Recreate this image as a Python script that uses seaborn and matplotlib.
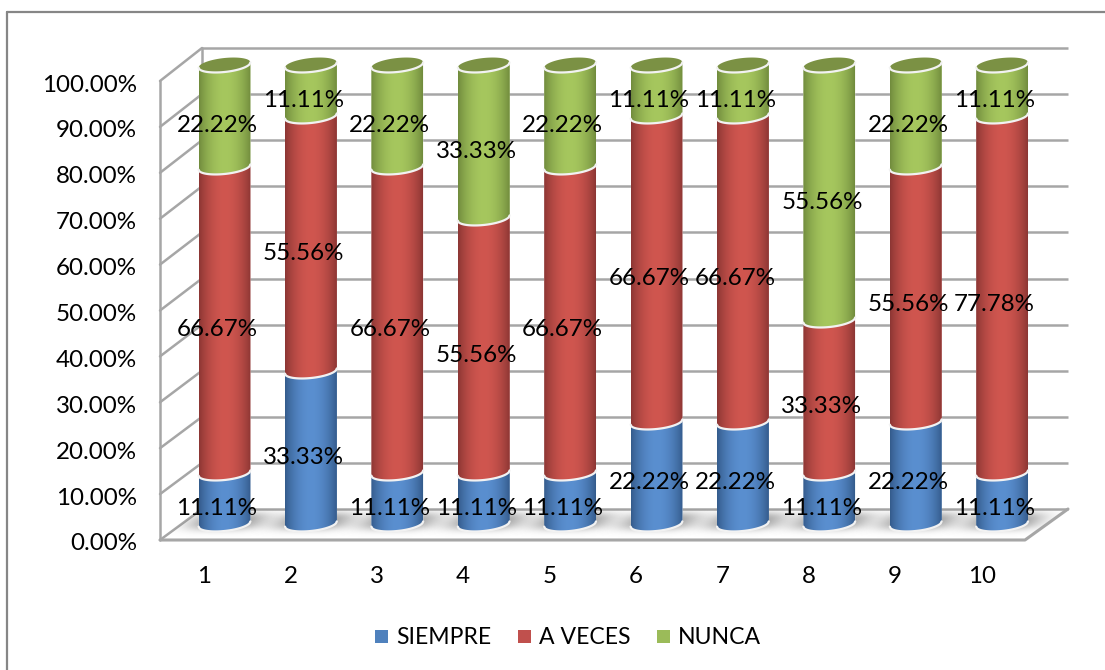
import numpy as np
import pandas as pd
import matplotlib
matplotlib.use('Agg')
import matplotlib.pyplot as plt
import seaborn as sns
from matplotlib.patches import Polygon, Rectangle

# Values
preguntas = ['1', '2', '3', '4', '5', '6', '7', '8', '9', '10']
siempre = [11.11, 33.33, 11.11, 11.11, 11.11, 22.22, 22.22, 11.11, 22.22, 11.11]
a_veces = [66.67, 55.56, 66.67, 55.56, 66.67, 66.67, 66.67, 33.33, 55.56, 77.78]
nunca = [22.22, 11.11, 22.22, 33.33, 22.22, 11.11, 11.11, 55.56, 22.22, 11.11]
series_names = ['SIEMPRE', 'A VECES', 'NUNCA']
y_ticks = [0, 10, 20, 30, 40, 50, 60, 70, 80, 90, 100]

colores = ['#4f81bd', '#c0504d', '#9bbb59']
lados = ['#335a8a', '#8a3533', '#6f8a3c']
centros = ['#5a8fd0', '#d0564f', '#a6c75e']
tapa = '#7b9144'

W, H = 1105, 670
sns.set_theme(style='white')
plt.rcParams['font.family'] = ['Lato', 'DejaVu Sans']
FS = 17.4
GRIS = '#a6a6a6'

fig = plt.figure(figsize=(W / 100, H / 100), dpi=100)


def axes_px(left, top, right, bottom):
    return fig.add_axes([left / W, 1 - bottom / H, (right - left) / W, (bottom - top) / H])


# pixel layer for the box, walls and floor
bg = fig.add_axes([0, 0, 1, 1])
bg.set_xlim(0, W)
bg.set_ylim(H, 0)
bg.axis('off')
# the outer box is cut off on the right and at the bottom
bg.plot([7, 7], [H, 12], color='#868686', lw=1.6)
bg.plot([7, W], [12, 12], color='#868686', lw=1.6)

fy0, fscale = 540, 4.59
by0, bscale = 509, 4.61
fl, fr, bl, br = 160, 1025, 202, 1068

suelo = [(fl, fy0), (fr, fy0), (br, by0), (bl, by0)]
bg.add_patch(Polygon(suelo, closed=True, fc='white', ec='none', zorder=1))
for v in y_ticks:
    yb = by0 - v * bscale
    yf = fy0 - v * fscale
    bg.plot([bl, br], [yb, yb], color=GRIS, lw=1.8, zorder=2, solid_capstyle='butt')
    bg.plot([fl, bl], [yf, yb], color=GRIS, lw=1.8, zorder=2)
bg.plot([fl, fl], [fy0, fy0 - 100 * fscale], color=GRIS, lw=1.8, zorder=2)
bg.plot([bl, bl], [by0, by0 - 100 * bscale], color=GRIS, lw=1.8, zorder=2)
bg.plot([fl, fr, br], [fy0, fy0, by0], color=GRIS, lw=2.2, zorder=3)

# soft shadows on the floor
xx, yy = np.meshgrid(np.arange(-60, 60.5, 1.0), np.arange(-16, 16.5, 1.0))
for i in range(len(preguntas)):
    xc = 224.5 + 86.4 * i
    u = xx + 0.9 * yy
    a = np.exp(-(np.abs(u) / 37) ** 3 - (np.abs(yy + 3) / 9) ** 2.5) * 0.72
    rgba = np.zeros(xx.shape + (4,))
    rgba[..., :3] = 0.45
    rgba[..., 3] = a
    im = bg.imshow(rgba, extent=(xc - 60, xc + 60, 524 + 16, 524 - 16), aspect='auto', zorder=2.5,
                   interpolation='bilinear')
    im.set_clip_path(Polygon(suelo, closed=True, transform=bg.transData))
bg.set_xlim(0, W)
bg.set_ylim(H, 0)

# front plane: only carries the tick labels
front = axes_px(204 - 43.2, 83, 204 + 9.5 * 86.4, 542)
front.patch.set_alpha(0)
front.set_xlim(-0.5, 9.5)
front.set_ylim(0, 100)
front.set_yticks(y_ticks)
front.set_yticklabels([f'{v:.2f}%' for v in y_ticks], fontsize=FS, color='black')
front.set_xticks(range(len(preguntas)))
front.set_xticklabels(preguntas, fontsize=FS, color='black')
front.tick_params(axis='y', length=0, pad=17)
front.tick_params(axis='x', length=0, pad=17.5)
sns.despine(ax=front, left=True, bottom=True)

# bars, the axes run 5 units past each end so the round ends are not cut
ax = axes_px(224.5 - 43.2, 65 - 5 * fscale, 224.5 + 9.5 * 86.4, 524 + 5 * fscale)
ax.patch.set_alpha(0)
df = pd.DataFrame({'pregunta': preguntas, 'SIEMPRE': siempre, 'A VECES': a_veces, 'NUNCA': nunca})
base = np.zeros(len(df))
ANCHO = 0.60
for name, c in zip(series_names, colores):
    sns.barplot(data=df, x='pregunta', y=name, color=c, bottom=base, width=ANCHO, saturation=1,
                ax=ax, errorbar=None, zorder=3)
    base = base + df[name].to_numpy()
ax.axis('off')

# turn each flat bar into a cylinder
EB = 7 / fscale
SL = 2.6 / fscale
ts = np.linspace(-1, 1, 60)


def lado_gradiente(c_lado, c_centro):
    s = np.linspace(0, 1, 128)
    l = np.array(matplotlib.colors.to_rgb(c_lado))
    m = np.array(matplotlib.colors.to_rgb(c_centro))
    f = np.clip(np.sin(np.pi * s) ** 0.8, 0, 1)
    return (l[None, :] + (m - l)[None, :] * f[:, None])[None, :, :]


for k, cont in enumerate(ax.containers):
    grad = lado_gradiente(lados[k], centros[k])
    for bar in cont:
        x0, w = bar.get_x(), bar.get_width()
        xc = x0 + w / 2
        y0 = bar.get_y()
        y1 = y0 + bar.get_height()
        xs = xc + ts * w / 2
        low = y0 + SL * ts - EB * np.sqrt(1 - ts ** 2)
        up = y1 + SL * ts - EB * np.sqrt(1 - ts ** 2)
        verts = np.vstack([np.column_stack([xs, low]), np.column_stack([xs[::-1], up[::-1]])])
        shape = Polygon(verts, closed=True, transform=ax.transData)
        bar.set_clip_path(shape)
        im = ax.imshow(grad, extent=(x0, x0 + w, y0 - 2 * EB, y1 + 2 * EB), aspect='auto',
                       zorder=3 + k * 0.1, interpolation='bilinear')
        im.set_clip_path(shape)
        # white rim along the lower edge
        ax.plot(xs, low, color='#f2f2f2', lw=1.6, zorder=3.5 + k * 0.1, clip_on=False)
        if k == 2:
            top_x = np.concatenate([xs, xs[::-1]])
            top_y = np.concatenate([up, y1 + SL * ts[::-1] + EB * np.sqrt(1 - ts[::-1] ** 2)])
            ax.add_patch(Polygon(np.column_stack([top_x, top_y]), closed=True, fc=tapa, ec='none',
                                 zorder=3.8, clip_on=False))
            ax.plot(xs, up, color='#f2f2f2', lw=1.6, zorder=3.9, clip_on=False)
ax.set_xlim(-0.5, 9.5)
ax.set_ylim(-5, 105)

# percentage labels sit off to the left of each cylinder
for cont in ax.containers:
    for bar in cont:
        ax.annotate(f'{bar.get_height():.2f}%', (bar.get_x() + bar.get_width() / 2, bar.get_y() + bar.get_height() / 2),
                    xytext=(-5.4, -7), textcoords='offset points', ha='center', va='center',
                    fontsize=FS, color='black', zorder=6, annotation_clip=False)

handles = [Rectangle((0, 0), 1, 1, fc=c, ec='none') for c in colores]
fig.legend(handles, series_names, loc='center', bbox_to_anchor=(568 / W, 1 - 638 / H), ncol=3, frameon=False,
           fontsize=16.6, handlelength=0.565, handleheight=0.51, handletextpad=0.35, columnspacing=1.15,
           labelcolor='black')

fig.savefig('out.png', dpi=100)
